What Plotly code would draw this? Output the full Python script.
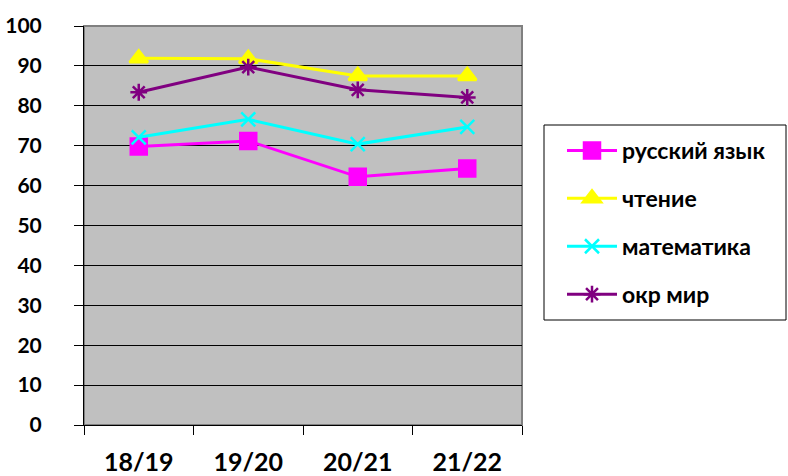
import plotly.graph_objects as go

categories = ["18/19", "19/20", "20/21", "21/22"]
russian = [69.8, 71.2, 62.2, 64.3]
reading = [91.9, 91.8, 87.5, 87.5]
math = [72.1, 76.6, 70.4, 74.7]
world = [83.4, 89.7, 84.0, 82.1]
y_ticks = [0, 10, 20, 30, 40, 50, 60, 70, 80, 90, 100]

series = [
    ("русский язык", russian, "#FF00FF", "square", 16),
    ("чтение", reading, "#FFFF00", "triangle-up", 16),
    ("математика", math, "#00FFFF", "x-thin-open", 14),
    ("окр мир", world, "#800080", "asterisk-open", 14),
]

fig = go.Figure()
for i, (name, vals, color, sym, size) in enumerate(series):
    fig.add_trace(go.Scatter(
        x=categories, y=vals, name=name, mode="lines+markers",
        legendgroup=f"g{i}",
        line=dict(color=color, width=3),
        marker=dict(symbol=sym, size=size, color=color,
                    line=dict(color=color, width=2.5)),
    ))

font_family = "Lato"
fig.update_layout(
    width=788, height=476,
    margin=dict(l=84, r=266, t=26, b=51),
    paper_bgcolor="white",
    plot_bgcolor="#C0C0C0",
    font=dict(family=font_family, color="black", weight=700),
    showlegend=True,
    legend=dict(
        x=(562 - 84) / 438, y=(425 - 129) / 399, xanchor="left", yanchor="top",
        bgcolor="rgba(0,0,0,0)", borderwidth=0,
        font=dict(size=23, family=font_family, weight=700),
        tracegroupgap=15, itemwidth=50,
    ),
    xaxis=dict(
        type="category", range=[-0.5, 3.5], automargin=False,
        showgrid=False, showline=True, linecolor="black", linewidth=1,
        ticks="outside", tickson="boundaries", ticklen=9, tickcolor="black",
        tickfont=dict(size=25, family=font_family, weight=700), ticklabelstandoff=15,
        zeroline=False,
    ),
    yaxis=dict(
        range=[0, 100], tickvals=y_ticks, automargin=False,
        showgrid=True, gridcolor="black", gridwidth=1,
        showline=True, linecolor="black", linewidth=1,
        ticks="outside", ticklen=9, tickcolor="black",
        tickfont=dict(size=21, family=font_family, weight=700), ticklabelstandoff=28,
        zeroline=False,
    ),
    shapes=[
        dict(type="rect", xref="paper", yref="paper", x0=0, x1=1, y0=0, y1=1,
             line=dict(color="#808080", width=2), layer="below"),
        dict(type="rect", xref="paper", yref="paper",
             x0=(544 - 84) / 438, x1=(786 - 84) / 438,
             y0=(425 - 320) / 399, y1=(425 - 125) / 399,
             fillcolor="white", line=dict(color="black", width=1), layer="above"),
    ],
)

fig.write_html("out.html", config={"displayModeBar": False},
               post_script="document.body.style.margin='0';")
